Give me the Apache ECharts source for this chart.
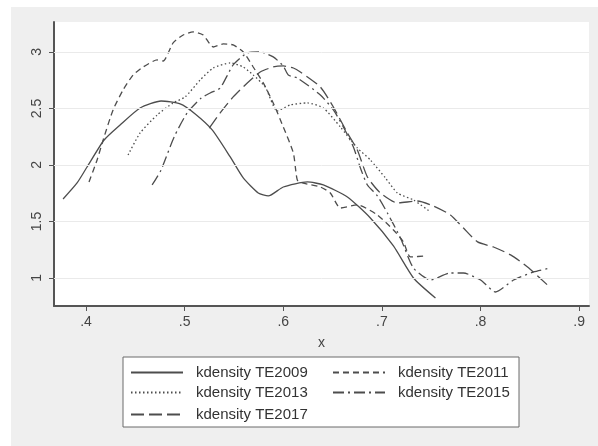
<!DOCTYPE html>
<html>
<head>
    <meta charset="utf-8">
    <title>kdensity TE</title>
    <script src="https://cdn.jsdelivr.net/npm/echarts@6/dist/echarts.min.js"></script>
    <style>
        html, body { margin: 0; padding: 0; background: #fff; }
        #main { width: 598px; height: 446px; }
    </style>
</head>
<body>
<div id="main"></div>
<script type="text/javascript">
    // 坐标轴刻度
    var xTicks = [0.4, 0.5, 0.6, 0.7, 0.8, 0.9];
    var yTicks = [1, 1.5, 2, 2.5, 3];

    // 各年份核密度曲线
    var te2009X = [0.3767, 0.3909, 0.4010, 0.4183, 0.4345, 0.4548, 0.4761, 0.4954, 0.5107, 0.5279, 0.5462, 0.5594, 0.5746, 0.5848, 0.6000, 0.6244, 0.6406, 0.6650, 0.6883, 0.7117, 0.7320, 0.7543];
    var te2009Y = [1.699, 1.841, 1.982, 2.221, 2.354, 2.504, 2.566, 2.540, 2.451, 2.310, 2.071, 1.885, 1.752, 1.726, 1.805, 1.850, 1.823, 1.717, 1.531, 1.283, 1.000, 0.823];

    var te2011X = [0.4030, 0.4112, 0.4173, 0.4274, 0.4376, 0.4477, 0.4579, 0.4721, 0.4782, 0.4883, 0.4985, 0.5086, 0.5188, 0.5289, 0.5391, 0.5492, 0.5594, 0.5695, 0.5797, 0.5898, 0.6000, 0.6102, 0.6142, 0.6193, 0.6376, 0.6477, 0.6579, 0.6751, 0.6954, 0.7117, 0.7218, 0.7289, 0.7442];
    var te2011Y = [1.850, 2.044, 2.221, 2.487, 2.664, 2.796, 2.867, 2.929, 2.920, 3.080, 3.150, 3.177, 3.150, 3.044, 3.071, 3.062, 3.000, 2.867, 2.726, 2.549, 2.336, 2.106, 1.867, 1.841, 1.805, 1.752, 1.619, 1.646, 1.558, 1.425, 1.319, 1.186, 1.195];

    var te2013X = [0.4426, 0.4548, 0.4721, 0.4883, 0.5005, 0.5157, 0.5289, 0.5462, 0.5594, 0.5695, 0.5817, 0.5939, 0.6071, 0.6244, 0.6406, 0.6579, 0.6751, 0.6883, 0.7036, 0.7157, 0.7320, 0.7492];
    var te2013Y = [2.088, 2.283, 2.442, 2.549, 2.602, 2.752, 2.858, 2.903, 2.867, 2.796, 2.690, 2.478, 2.531, 2.549, 2.504, 2.336, 2.150, 2.044, 1.885, 1.752, 1.690, 1.584];

    var te2015X = [0.4670, 0.4761, 0.4893, 0.5025, 0.5168, 0.5259, 0.5360, 0.5492, 0.5635, 0.5766, 0.5898, 0.6000, 0.6051, 0.6142, 0.6376, 0.6508, 0.6609, 0.6711, 0.6782, 0.6853, 0.6954, 0.7056, 0.7188, 0.7320, 0.7492, 0.7695, 0.7827, 0.8000, 0.8152, 0.8335, 0.8538, 0.8711];
    var te2015Y = [1.823, 1.956, 2.248, 2.460, 2.593, 2.637, 2.681, 2.885, 2.991, 3.000, 2.956, 2.876, 2.796, 2.770, 2.619, 2.487, 2.336, 2.159, 1.973, 1.823, 1.726, 1.575, 1.354, 1.088, 0.982, 1.044, 1.044, 0.982, 0.876, 0.982, 1.053, 1.088];

    var te2017X = [0.5249, 0.5360, 0.5492, 0.5635, 0.5766, 0.5898, 0.6000, 0.6102, 0.6173, 0.6376, 0.6508, 0.6650, 0.6751, 0.6853, 0.6985, 0.7157, 0.7360, 0.7523, 0.7695, 0.7827, 0.7970, 0.8132, 0.8305, 0.8477, 0.8690];
    var te2017Y = [2.327, 2.460, 2.602, 2.726, 2.823, 2.867, 2.876, 2.858, 2.823, 2.690, 2.513, 2.283, 2.133, 1.894, 1.752, 1.664, 1.681, 1.637, 1.558, 1.442, 1.319, 1.274, 1.204, 1.097, 0.929];

    function pairs(xs, ys) {
        var out = [];
        for (var i = 0; i < xs.length; i++) {
            out.push([xs[i], ys[i]]);
        }
        return out;
    }

    var lineColor = '#4d4d4d';
    var textColor = '#444';

    function makeSeries(name, xs, ys, dash) {
        return {
            name: name,
            type: 'line',
            data: pairs(xs, ys),
            symbol: 'none',
            showSymbol: false,
            smooth: 0.2,
            lineStyle: {color: lineColor, width: 1.3, type: dash},
            itemStyle: {color: lineColor}
        };
    }

    var series = [
        makeSeries('kdensity TE2009', te2009X, te2009Y, 'solid'),
        makeSeries('kdensity TE2011', te2011X, te2011Y, [6, 4]),
        makeSeries('kdensity TE2013', te2013X, te2013Y, [1.5, 2.5]),
        makeSeries('kdensity TE2015', te2015X, te2015Y, [11, 4, 2, 4]),
        makeSeries('kdensity TE2017', te2017X, te2017Y, [13, 5])
    ];

    // 水平网格线
    series[0].markLine = {
        silent: true,
        symbol: 'none',
        label: {show: false},
        lineStyle: {color: '#eaeaea', width: 1, type: 'solid'},
        data: yTicks.map(function (v) { return {yAxis: v}; })
    };
    series[0].z = 3;

    function legendAt(name, left, top) {
        return {
            data: [name],
            left: left,
            top: top,
            padding: 0,
            itemWidth: 52,
            itemHeight: 14,
            selectedMode: false,
            itemStyle: {opacity: 0},
            textStyle: {fontSize: 15, color: '#333', fontFamily: 'Liberation Sans, Arial', padding: [0, 0, 0, 8]}
        };
    }

    var myChart = echarts.init(document.getElementById('main'));

    var option = {
        animation: false,
        backgroundColor: '#fff',
        graphic: [
            {type: 'rect', z: -10, shape: {x: 11, y: 7, width: 587, height: 439}, style: {fill: '#efefef'}},
            {type: 'rect', z: 1, shape: {x: 123, y: 357, width: 396, height: 70}, style: {fill: '#fff', stroke: '#6a6a6a', lineWidth: 1}}
        ],
        grid: {
            left: 54, right: 9, top: 22, bottom: 140,
            show: true, backgroundColor: '#fff', borderWidth: 0
        },
        legend: [
            legendAt('kdensity TE2009', 130, 365),
            legendAt('kdensity TE2011', 332, 365),
            legendAt('kdensity TE2013', 130, 385),
            legendAt('kdensity TE2015', 332, 385),
            legendAt('kdensity TE2017', 130, 407)
        ],
        xAxis: {
            type: 'value',
            min: 0.3675,
            max: 0.91,
            name: 'x',
            nameLocation: 'middle',
            nameGap: 30,
            nameTextStyle: {fontSize: 14, color: textColor, fontFamily: 'Liberation Sans, Arial'},
            axisLine: {show: true, lineStyle: {color: '#555', width: 2}},
            axisTick: {show: true, length: 5, customValues: xTicks, lineStyle: {color: '#555'}},
            axisLabel: {
                customValues: xTicks, margin: 9, fontSize: 14, color: textColor,
                fontFamily: 'Liberation Sans, Arial',
                formatter: function (v) { return v.toFixed(1).replace(/^0/, ''); }
            },
            splitLine: {show: false}
        },
        yAxis: {
            type: 'value',
            min: 0.752,
            max: 3.265,
            axisLine: {show: true, lineStyle: {color: '#555', width: 2}},
            axisTick: {show: true, length: 5, customValues: yTicks, lineStyle: {color: '#555'}},
            axisLabel: {
                customValues: yTicks, rotate: 90, margin: 10, fontSize: 14, color: textColor,
                fontFamily: 'Liberation Sans, Arial',
                formatter: function (v) { return String(Math.round(v * 10) / 10); }
            },
            splitLine: {show: false}
        },
        series: series
    };

    myChart.setOption(option);
</script>
</body>
</html>
